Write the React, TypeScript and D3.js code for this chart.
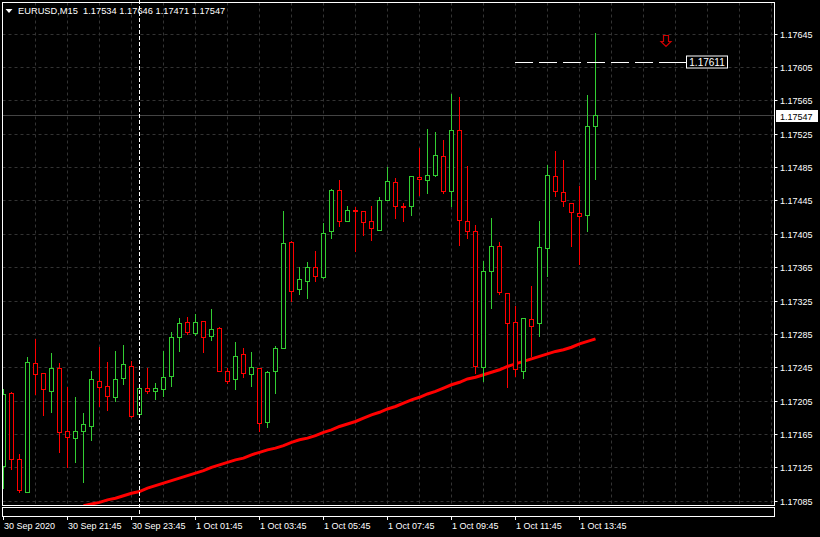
import { useEffect, useRef } from 'react';
import * as d3 from 'd3';

// EURUSD M15 bars (bar 0 = 30 Sep 19:45)
const opens = [
  1.17127, 1.17214, 1.17135, 1.17096, 1.17250, 1.17238, 1.17217, 1.17244, 1.17168, 1.17160,
  1.17168, 1.17175, 1.17229, 1.17222, 1.17209, 1.17232, 1.17247, 1.17189, 1.17220, 1.17216,
  1.17219, 1.17234, 1.17281, 1.17299, 1.17286, 1.17300, 1.17282, 1.17292, 1.17241, 1.17231,
  1.17261, 1.17237, 1.17244, 1.17179, 1.17240, 1.17268, 1.17395, 1.17339, 1.17349, 1.17365,
  1.17353, 1.17408, 1.17457, 1.17421, 1.17433, 1.17432, 1.17420, 1.17410, 1.17446, 1.17467,
  1.17438, 1.17438, 1.17473, 1.17470, 1.17476, 1.17498, 1.17456, 1.17530, 1.17421, 1.17408,
  1.17245, 1.17360, 1.17390, 1.17334, 1.17299, 1.17241, 1.17303, 1.17298, 1.17388, 1.17474,
  1.17455, 1.17442, 1.17430, 1.17427, 1.17534,
];
const highs = [
  1.17219, 1.17215, 1.17141, 1.17257, 1.17279, 1.17238, 1.17262, 1.17250, 1.17221, 1.17209,
  1.17190, 1.17241, 1.17269, 1.17251, 1.17265, 1.17272, 1.17252, 1.17220, 1.17244, 1.17226,
  1.17265, 1.17287, 1.17304, 1.17305, 1.17309, 1.17301, 1.17315, 1.17293, 1.17244, 1.17275,
  1.17268, 1.17263, 1.17244, 1.17241, 1.17270, 1.17432, 1.17397, 1.17365, 1.17371, 1.17384,
  1.17418, 1.17459, 1.17470, 1.17438, 1.17437, 1.17432, 1.17438, 1.17449, 1.17485, 1.17472,
  1.17442, 1.17474, 1.17508, 1.17531, 1.17527, 1.17517, 1.17573, 1.17569, 1.17486, 1.17416,
  1.17373, 1.17424, 1.17395, 1.17334, 1.17319, 1.17304, 1.17342, 1.17421, 1.17488, 1.17504,
  1.17493, 1.17442, 1.17462, 1.17572, 1.17646,
];
const lows = [
  1.17100, 1.17123, 1.17095, 1.17095, 1.17213, 1.17188, 1.17191, 1.17143, 1.17126, 1.17132,
  1.17108, 1.17158, 1.17199, 1.17194, 1.17205, 1.17225, 1.17185, 1.17189, 1.17214, 1.17207,
  1.17211, 1.17222, 1.17265, 1.17285, 1.17284, 1.17263, 1.17278, 1.17240, 1.17226, 1.17219,
  1.17233, 1.17222, 1.17168, 1.17173, 1.17214, 1.17268, 1.17324, 1.17333, 1.17328, 1.17348,
  1.17352, 1.17400, 1.17415, 1.17420, 1.17384, 1.17404, 1.17398, 1.17410, 1.17446, 1.17424,
  1.17420, 1.17427, 1.17451, 1.17454, 1.17474, 1.17454, 1.17438, 1.17392, 1.17400, 1.17238,
  1.17228, 1.17316, 1.17333, 1.17221, 1.17235, 1.17232, 1.17259, 1.17283, 1.17354, 1.17450,
  1.17438, 1.17390, 1.17369, 1.17408, 1.17471,
];
const closes = [
  1.17213, 1.17135, 1.17098, 1.17251, 1.17237, 1.17219, 1.17244, 1.17167, 1.17161, 1.17169,
  1.17177, 1.17231, 1.17221, 1.17210, 1.17231, 1.17249, 1.17187, 1.17220, 1.17217, 1.17220,
  1.17233, 1.17281, 1.17298, 1.17287, 1.17299, 1.17281, 1.17291, 1.17240, 1.17229, 1.17259,
  1.17238, 1.17245, 1.17178, 1.17239, 1.17268, 1.17394, 1.17337, 1.17351, 1.17365, 1.17354,
  1.17406, 1.17458, 1.17420, 1.17434, 1.17432, 1.17419, 1.17412, 1.17445, 1.17468, 1.17438,
  1.17437, 1.17474, 1.17471, 1.17475, 1.17499, 1.17456, 1.17529, 1.17422, 1.17408, 1.17246,
  1.17361, 1.17391, 1.17335, 1.17298, 1.17243, 1.17304, 1.17295, 1.17389, 1.17475, 1.17456,
  1.17444, 1.17431, 1.17426, 1.17534, 1.17547,
];

// moving average, first value belongs to bar 10
const maStart = 10;
const maValues = [
  1.17079, 1.17081, 1.17083, 1.17086, 1.17088, 1.17091, 1.17094, 1.17096, 1.17100, 1.17103,
  1.17106, 1.17109, 1.17112, 1.17115, 1.17118, 1.17121, 1.17125, 1.17128, 1.17131, 1.17134,
  1.17136, 1.17140, 1.17143, 1.17146, 1.17148, 1.17151, 1.17155, 1.17158, 1.17160, 1.17163,
  1.17167, 1.17170, 1.17174, 1.17177, 1.17180, 1.17184, 1.17188, 1.17191, 1.17195, 1.17198,
  1.17202, 1.17206, 1.17209, 1.17213, 1.17216, 1.17220, 1.17224, 1.17227, 1.17231, 1.17233,
  1.17236, 1.17239, 1.17242, 1.17246, 1.17249, 1.17252, 1.17255, 1.17258, 1.17261, 1.17264,
  1.17266, 1.17269, 1.17273, 1.17276, 1.17279,
];

const priceTicks = [
  1.17085, 1.17125, 1.17165, 1.17205, 1.17245, 1.17285, 1.17325, 1.17365,
  1.17405, 1.17445, 1.17485, 1.17525, 1.17565, 1.17605, 1.17645,
];

const timeLabels = [
  { bar: 0, label: "30 Sep 2020" },
  { bar: 8, label: "30 Sep 21:45" },
  { bar: 16, label: "30 Sep 23:45" },
  { bar: 24, label: "1 Oct 01:45" },
  { bar: 32, label: "1 Oct 03:45" },
  { bar: 40, label: "1 Oct 05:45" },
  { bar: 48, label: "1 Oct 07:45" },
  { bar: 56, label: "1 Oct 09:45" },
  { bar: 64, label: "1 Oct 11:45" },
  { bar: 72, label: "1 Oct 13:45" },
];

const daySeparatorBar = 17;
const lastPrice = 1.17547;
const alertPrice = 1.17611;
const header = "EURUSD,M15  1.17534 1.17646 1.17471 1.17547";

const BULL = "#32cd32";
const BEAR = "#ff0000";
const FONT = "'Liberation Sans', Arial, sans-serif";

const App = () => {
  const svgRef = useRef<SVGSVGElement>(null);

  useEffect(() => {
    if (!svgRef.current) return;
    const svg = d3.select(svgRef.current);
    svg.selectAll("*").remove();

    const W = 820, H = 537;
    const left = 2.5, right = 774.5, top = 2.5, bottom = 505.5;

    const x = d3.scaleLinear().domain([0, 96]).range([3, 771]);
    const y = d3.scaleLinear().domain([1.17085, 1.17645]).range([500.7, 33.7]);
    const px = (i: number) => Math.round(x(i));
    const py = (v: number) => Math.round(y(v));

    svg.append("rect").attr("width", W).attr("height", H).attr("fill", "#000");

    svg.append("clipPath").attr("id", "plot")
      .append("rect").attr("x", left).attr("y", top)
      .attr("width", right - left).attr("height", bottom - top);

    // grid
    const grid = svg.append("g").attr("clip-path", "url(#plot)");
    grid.selectAll(".hg")
      .data(priceTicks)
      .enter()
      .append("line")
      .attr("x1", left).attr("x2", right)
      .attr("y1", d => py(d) + 0.5).attr("y2", d => py(d) + 0.5)
      .style("stroke", "#333")
      .style("stroke-dasharray", "3,3");
    grid.selectAll(".vg")
      .data(d3.range(4, 97, 4))
      .enter()
      .append("line")
      .attr("x1", d => px(d) + 0.5).attr("x2", d => px(d) + 0.5)
      .attr("y1", top).attr("y2", bottom)
      .style("stroke", "#333")
      .style("stroke-dasharray", "3,3");

    // current price line
    grid.append("line")
      .attr("x1", left).attr("x2", right)
      .attr("y1", py(lastPrice) + 0.5).attr("y2", py(lastPrice) + 0.5)
      .style("stroke", "#444");

    // moving average
    const maLine = d3.line<number>()
      .x((d, i) => x(i + maStart) + 0.5)
      .y(d => y(d));
    grid.append("path")
      .attr("d", maLine(maValues) || "")
      .style("fill", "none")
      .style("stroke", BEAR)
      .style("stroke-width", 3);

    // candles
    const bars = d3.range(opens.length);
    const candle = grid.selectAll(".candle")
      .data(bars)
      .enter()
      .append("g");
    candle.append("line")
      .attr("x1", i => px(i) + 0.5).attr("x2", i => px(i) + 0.5)
      .attr("y1", i => py(highs[i])).attr("y2", i => py(lows[i]) + 1)
      .style("stroke", i => (closes[i] >= opens[i] ? BULL : BEAR));
    candle.append("rect")
      .attr("x", i => px(i) - 1.5)
      .attr("y", i => py(Math.max(opens[i], closes[i])) + 0.5)
      .attr("width", 4)
      .attr("height", i => Math.max(1, py(Math.min(opens[i], closes[i])) - py(Math.max(opens[i], closes[i]))))
      .style("fill", "#000")
      .style("stroke", i => (closes[i] >= opens[i] ? BULL : BEAR));

    // day separator
    svg.append("line")
      .attr("x1", px(daySeparatorBar) + 0.5).attr("x2", px(daySeparatorBar) + 0.5)
      .attr("y1", 0).attr("y2", 516)
      .style("stroke", "#fff")
      .style("stroke-dasharray", "4,2");

    // alert level
    const ay = py(alertPrice) + 0.5;
    svg.append("line")
      .attr("x1", 515).attr("x2", 676)
      .attr("y1", ay).attr("y2", ay)
      .style("stroke", "#fff")
      .style("stroke-dasharray", "18,6");
    svg.append("line")
      .attr("x1", 676).attr("x2", 686)
      .attr("y1", ay).attr("y2", ay)
      .style("stroke", "#fff");
    svg.append("rect")
      .attr("x", 686.5).attr("y", ay - 6.5)
      .attr("width", 41).attr("height", 12)
      .style("fill", "#000").style("stroke", "#fff");
    svg.append("text")
      .attr("x", 707).attr("y", ay + 3.5)
      .attr("text-anchor", "middle")
      .style("font-family", FONT).style("font-size", "10px")
      .style("fill", "#fff")
      .text(alertPrice.toFixed(5));

    // sell arrow
    svg.append("path")
      .attr("d", "M663.5,35.5 h5 v6 h2.5 l-5,5 l-5,-5 h2.5 z")
      .style("fill", "none")
      .style("stroke", "#d00000")
      .style("stroke-width", 1.2);

    // frames
    svg.append("rect")
      .attr("x", left).attr("y", top)
      .attr("width", right - left).attr("height", bottom - top)
      .style("fill", "none").style("stroke", "#fff");
    svg.append("rect")
      .attr("x", left).attr("y", 507.5)
      .attr("width", right - left).attr("height", 9)
      .style("fill", "none").style("stroke", "#fff");

    // price axis
    const axis = svg.append("g");
    axis.selectAll(".pt")
      .data(priceTicks)
      .enter()
      .append("line")
      .attr("x1", right).attr("x2", right + 3)
      .attr("y1", d => py(d) + 0.5).attr("y2", d => py(d) + 0.5)
      .style("stroke", "#fff");
    axis.selectAll(".pl")
      .data(priceTicks)
      .enter()
      .append("text")
      .attr("x", 780)
      .attr("y", d => py(d) + 4)
      .style("font-family", FONT).style("font-size", "9px")
      .style("fill", "#fff")
      .text(d => d.toFixed(5));

    // last price tag
    const ly = py(lastPrice);
    axis.append("rect")
      .attr("x", 776).attr("y", ly - 5)
      .attr("width", 42).attr("height", 12)
      .style("fill", "#fff");
    axis.append("text")
      .attr("x", 780).attr("y", ly + 4.5)
      .style("font-family", FONT).style("font-size", "9px")
      .style("fill", "#000")
      .text(lastPrice.toFixed(5));

    // time axis
    axis.selectAll(".tt")
      .data(timeLabels)
      .enter()
      .append("line")
      .attr("x1", d => px(d.bar) + 0.5).attr("x2", d => px(d.bar) + 0.5)
      .attr("y1", 517).attr("y2", 520)
      .style("stroke", "#fff");
    axis.selectAll(".tl")
      .data(timeLabels)
      .enter()
      .append("text")
      .attr("x", d => px(d.bar) + 1)
      .attr("y", 529)
      .style("font-family", FONT).style("font-size", "9px")
      .style("fill", "#fff")
      .text(d => d.label);

    // header
    svg.append("path")
      .attr("d", "M5.5,9 L12.5,9 L9,13 Z")
      .style("fill", "#fff");
    svg.append("text")
      .attr("x", 18).attr("y", 14)
      .style("font-family", FONT).style("font-size", "9.3px")
      .style("fill", "#fff")
      .style("white-space", "pre")
      .text(header);
  }, []);

  return (
    <svg
      ref={svgRef}
      width={820}
      height={537}
      style={{ position: 'absolute', left: 0, top: 0, display: 'block' }}
    ></svg>
  );
};

export default App;
